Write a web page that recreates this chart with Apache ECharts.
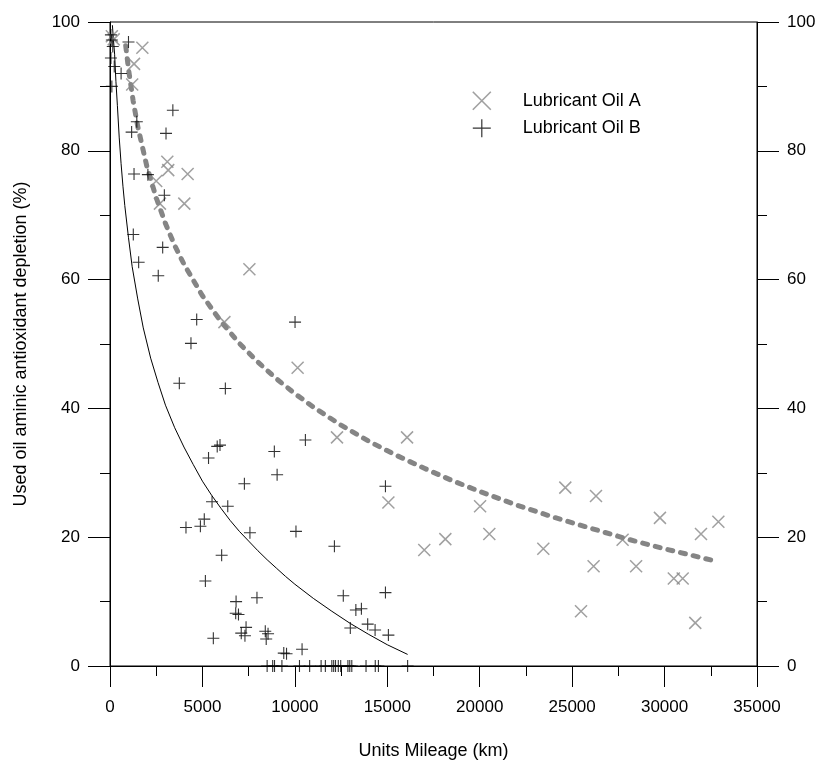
<!DOCTYPE html>
<html>
<head>
<meta charset="utf-8">
<script src="https://cdn.jsdelivr.net/npm/echarts@6/dist/echarts.min.js"></script>
<style>
  html, body { margin: 0; padding: 0; background: #fff; }
  #chart { width: 823px; height: 765px; }
</style>
</head>
<body>
<div id="chart"></div>
<script>
// Lubricant Oil A samples [mileage km, depletion %]
const oilA = [
  [100, 97.8], [200, 97.3], [1750, 96.0], [1300, 93.5], [1200, 90.3],
  [3100, 78.3], [3150, 77.0], [4200, 76.4], [2500, 75.3], [2700, 71.8], [4020, 71.8],
  [7540, 61.6], [6190, 53.4], [10150, 46.3], [12280, 35.5], [16070, 35.5],
  [15060, 25.4], [17000, 18.0], [18140, 19.7], [20020, 24.8], [20520, 20.5],
  [23440, 18.2], [24630, 27.7], [26290, 26.4], [26160, 15.5], [25480, 8.5],
  [27730, 19.6], [28460, 15.5], [29750, 23.0], [30500, 13.6], [30980, 13.6],
  [31660, 6.7], [31970, 20.5], [32910, 22.4]
];

// Lubricant Oil B samples [mileage km, depletion %]
const oilB = [
  [50, 98.0], [100, 97.2], [150, 96.2], [50, 94.4], [230, 93.1], [600, 92.0], [100, 90.0],
  [1000, 96.9], [3400, 86.3], [1450, 84.5], [1170, 82.9], [3030, 82.7],
  [1300, 76.4], [2050, 76.3], [2940, 73.1], [1260, 67.0], [2850, 65.0],
  [1550, 62.7], [2610, 60.6], [4690, 53.8], [10010, 53.4], [4380, 50.1],
  [3750, 43.9], [6240, 43.1], [10570, 35.1], [5800, 34.1], [5950, 34.3],
  [5330, 32.3], [8890, 33.3], [9040, 29.7], [7270, 28.3], [14900, 27.9],
  [5520, 25.5], [6370, 24.8], [5100, 22.8], [4110, 21.5], [4890, 21.7],
  [7570, 20.7], [10060, 20.9], [12140, 18.6], [6040, 17.2], [5160, 13.2],
  [12620, 10.9], [14900, 11.4], [7950, 10.6], [6820, 10.0], [6800, 8.2],
  [6950, 8.0], [13300, 8.7], [13600, 8.9], [13940, 6.5], [14340, 5.6],
  [13000, 5.9], [15060, 4.8], [7360, 6.0], [7100, 5.1], [7300, 4.7],
  [8400, 5.4], [8550, 5.0], [8450, 4.2], [5590, 4.3], [9400, 2.0],
  [9550, 1.9], [10390, 2.6],
  [8500, 0], [8800, 0], [8900, 0], [9300, 0], [10250, 0], [10800, 0],
  [11420, 0], [11650, 0], [12000, 0], [12100, 0], [12200, 0], [12350, 0],
  [12480, 0], [12870, 0], [12970, 0], [13080, 0], [13850, 0], [14350, 0],
  [14520, 0], [16100, 0]
];

// fitted trend lines
const curveA = [
  [850, 96.3], [1000, 92.7], [1250, 87.8], [1500, 83.8], [2000, 77.5],
  [2500, 72.7], [3000, 68.7], [3500, 65.3], [4000, 62.4], [5000, 57.5],
  [6000, 53.5], [7000, 50.1], [8000, 47.2], [9000, 44.6], [10000, 42.3],
  [11000, 40.2], [12500, 37.4], [14000, 34.9], [15500, 32.7], [17000, 30.7],
  [18500, 28.8], [20000, 27.1], [22000, 25.0], [24000, 23.1], [26000, 21.4],
  [28000, 19.7], [30000, 18.2], [32600, 16.4]
];
const curveB = [
  [130, 99.5], [180, 97.5], [250, 95], [320, 90.8], [400, 87], [500, 82],
  [600, 78], [700, 74.5], [800, 71.5], [1000, 66.5], [1200, 62], [1500, 57],
  [1800, 52.5], [2200, 47.8], [2600, 44], [3000, 40.5], [3500, 37], [4000, 34],
  [4500, 31.3], [5000, 28.7], [5500, 26.5], [6000, 24.5], [6500, 22.6],
  [7000, 20.9], [7500, 19.4], [8000, 17.9], [8500, 16.5], [9000, 15.2],
  [9500, 13.9], [10000, 12.7], [11000, 10.5], [12000, 8.5], [13000, 6.6],
  [14000, 4.9], [15000, 3.3], [16100, 1.8]
];

const xTicks = { min: 0, max: 35000, step: 5000 };
const yTicks = { min: 0, max: 100, step: 20 };

const FONT = 'Liberation Sans, Arial, sans-serif';
const crossPath = 'path://M0,0L10,10M10,0L0,10';
const plusPath = 'path://M5,0L5,10M0,5L10,5';

function yAxisOpt(pos) {
  return {
    type: 'value',
    position: pos,
    min: yTicks.min,
    max: yTicks.max,
    interval: yTicks.step,
    name: pos === 'left' ? 'Used oil aminic antioxidant depletion (%)' : '',
    nameLocation: 'middle',
    nameGap: 80,
    nameTextStyle: { fontFamily: FONT, fontSize: 18, color: '#000' },
    axisLine: { show: true, lineStyle: { color: '#000', width: 1 } },
    axisTick: { show: true, length: 22, lineStyle: { color: '#000' } },
    minorTick: { show: true, splitNumber: 2, length: 10, lineStyle: { color: '#000' } },
    splitLine: { show: false },
    axisLabel: { fontFamily: FONT, fontSize: 17, color: '#000', margin: 30 }
  };
}

const chart = echarts.init(document.getElementById('chart'));
chart.setOption({
  animation: false,
  backgroundColor: '#fff',
  grid: {
    left: 110, right: 66, top: 22, bottom: 98,
    show: true, borderColor: '#000', borderWidth: 1, backgroundColor: 'transparent'
  },
  legend: {
    orient: 'vertical',
    left: 472,
    top: 91,
    padding: 0,
    itemWidth: 18,
    itemHeight: 18,
    itemGap: 8,
    textStyle: { fontFamily: FONT, fontSize: 18, color: '#000', padding: [0, 0, 0, 27] },
    data: [
      { name: 'Lubricant Oil A', icon: crossPath,
        itemStyle: { color: 'transparent', borderColor: '#888', borderWidth: 1.6 } },
      { name: 'Lubricant Oil B', icon: plusPath,
        itemStyle: { color: 'transparent', borderColor: '#000', borderWidth: 1.2 } }
    ]
  },
  xAxis: {
    type: 'value',
    min: xTicks.min,
    max: xTicks.max,
    interval: xTicks.step,
    name: 'Units Mileage (km)',
    nameLocation: 'middle',
    nameGap: 76,
    nameTextStyle: { fontFamily: FONT, fontSize: 18, color: '#000' },
    axisLine: { show: true, onZero: false, lineStyle: { color: '#000', width: 1 } },
    axisTick: { show: true, length: 21, lineStyle: { color: '#000' } },
    minorTick: { show: true, splitNumber: 2, length: 10, lineStyle: { color: '#000' } },
    splitLine: { show: false },
    axisLabel: {
      fontFamily: FONT, fontSize: 17, color: '#000', margin: 33,
      formatter: function (v) { return String(v); }
    }
  },
  yAxis: [yAxisOpt('left'), yAxisOpt('right')],
  series: [
    {
      name: 'Lubricant Oil A',
      type: 'scatter',
      data: oilA,
      symbol: crossPath,
      symbolSize: 12,
      clip: false,
      itemStyle: { color: 'transparent', borderColor: '#888', borderWidth: 1.5 }
    },
    {
      name: 'Lubricant Oil B',
      type: 'scatter',
      data: oilB,
      symbol: plusPath,
      symbolSize: 12,
      clip: false,
      itemStyle: { color: 'transparent', borderColor: '#000', borderWidth: 1.1 }
    },
    {
      name: 'fit A',
      type: 'line',
      data: curveA,
      showSymbol: false,
      lineStyle: { color: '#858585', width: 5, type: [5, 8], cap: 'round', join: 'round' },
      z: 1
    },
    {
      name: 'fit B',
      type: 'line',
      data: curveB,
      showSymbol: false,
      lineStyle: { color: '#000', width: 1 },
      z: 1
    }
  ]
});
</script>
</body>
</html>
